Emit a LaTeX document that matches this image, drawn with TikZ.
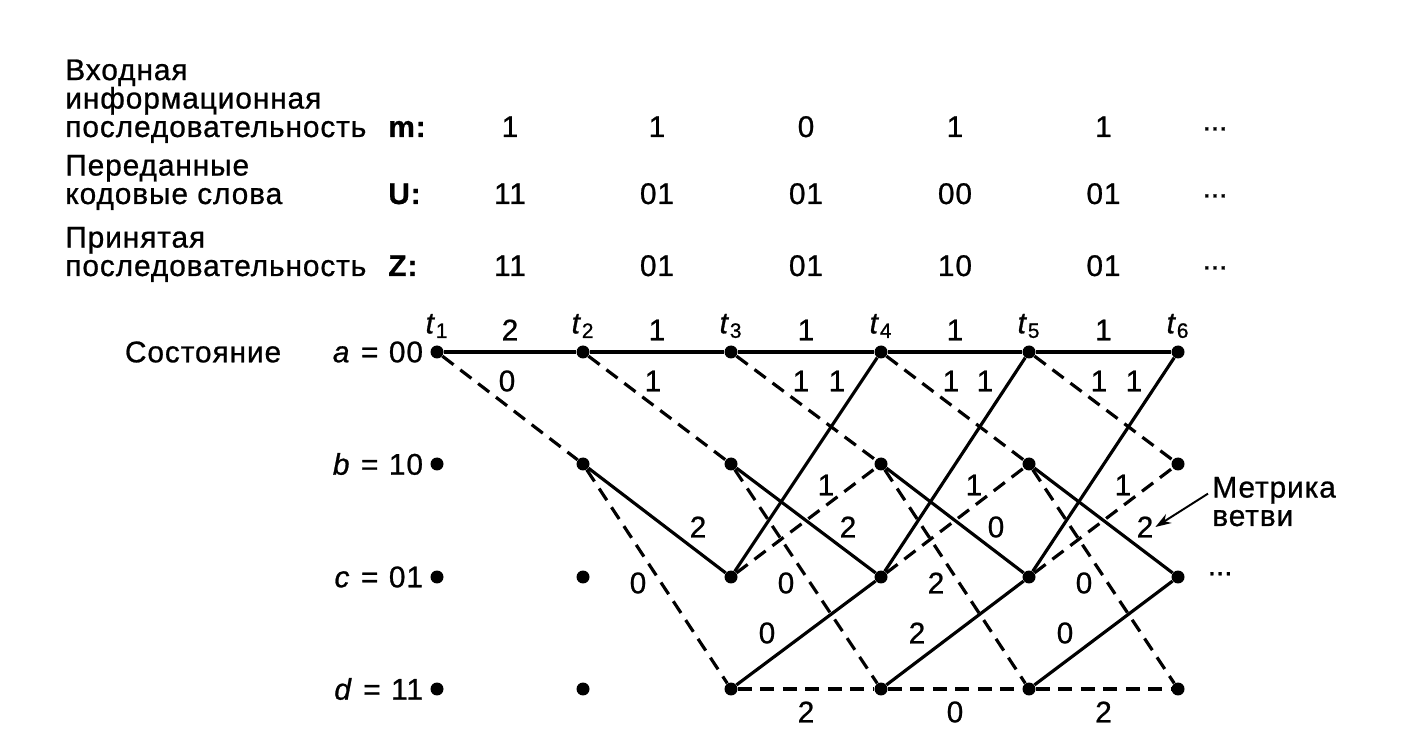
\documentclass[tikz,border=0pt]{standalone}
\usepackage{fontspec}
\setmainfont{Liberation Sans}[LetterSpace=3,FakeBold=0.8]
\usetikzlibrary{arrows.meta,positioning,calc}
\setlength{\lineskiplimit}{-10pt}
\tikzset{
  st/.style={circle,fill=black,inner sep=0pt,minimum size=0.26cm},
  br/.style={line width=1.8pt},
  brd/.style={line width=1.8pt,dash pattern=on 0.28cm off 0.17cm},
  num/.style={font=\fontsize{17}{18}\selectfont,inner sep=1pt},
  lbl/.style={font=\fontsize{17}{16.2}\selectfont,align=left,inner sep=0pt,anchor=base west},
  key/.style={font=\fontsize{17}{18}\selectfont\bfseries,inner sep=0pt,anchor=base west},
  arr/.style={-{Stealth[length=9pt,width=6pt]},line width=1.1pt},
}

\begin{document}
\begin{tikzpicture}[x=0.02cm,y=-0.02cm]
  \useasboundingbox (0,0) rectangle (1421,736);
  \foreach \xx [count=\i] in {437,583,731,881,1029,1178} {
    \foreach \s/\yy in {a/352,b/464,c/577,d/689}
      \node[st] (\s\i) at (\xx,\yy) {};
    \node[num] (t\i) at (\xx,326) {\textit{t}\textsubscript{\i}};
  }
  \foreach \i [evaluate=\i as \j using int(\i+1)] in {1,...,5}
    \coordinate (mid\i) at ($(a\i)!0.5!(a\j)$);

  \node[lbl] (inp) at (65,137) {Входная\\информационная\\последовательность};
  \node[lbl] (sent) at (65,204) {Переданные\\кодовые слова};
  \node[lbl] (recv) at (65,276) {Принятая\\последовательность};
  \node[key] (mlab) at (388,137) {m:};
  \node[key] (ulab) at (388,204) {U:};
  \node[key] (zlab) at (388,276) {Z:};
  \foreach \m/\u/\z [count=\i] in {1/11/11,1/01/01,0/01/01,1/00/10,1/01/01} {
    \node[num,anchor=base] (mv\i) at (mid\i |- mlab.base) {\m};
    \node[num,anchor=base] (uv\i) at (mid\i |- ulab.base) {\u};
    \node[num,anchor=base] (zv\i) at (mid\i |- zlab.base) {\z};
  }
  \foreach \r in {mlab,ulab,zlab}
    \node[num,anchor=base] (\r dots) at (1215,0 |- \r.base) {·\kern-1pt·\kern-1pt·};

  \node[num,left=0.1cm of a1] (sa) {\textit{a}\hspace{6pt}=\hspace{6pt}00};
  \node[num,left=0.1cm of b1] (sb) {\textit{b}\hspace{6pt}=\hspace{6pt}10};
  \node[num,left=0.1cm of c1] (sc) {\textit{c}\hspace{6pt}=\hspace{6pt}01};
  \node[num,left=0.1cm of d1] (sd) {\textit{d}\hspace{6pt}=\hspace{6pt}11};
  \node[num,left=0.95cm of sa] (state) {Состояние};

  \foreach \v/\w [count=\i, evaluate=\i as \j using int(\i+1)] in {2/0,1/1,1/1,1/1,1/1} {
    \draw[br] (a\i) -- (a\j);
    \draw[brd] (a\i) -- (b\j);
    \node[num] (laa\i) at ($(a\i)!0.5!(a\j)+(0,-22)$) {\v};
    \node[num] (lab\i) at ($(a\i)+(70,29)$) {\w};
  }
  \foreach \v/\w [count=\k, evaluate=\k as \i using int(\k+1), evaluate=\k as \j using int(\k+2)] in {2/0,2/0,0/2,2/0} {
    \draw[br] (b\i) -- (c\j);
    \draw[brd] (b\i) -- (d\j);
    \node[num] (lbc\i) at ($(c\j)+(-33,-50)$) {\v};
    \node[num] (lbd\i) at ($(c\i)+(55,6)$) {\w};
  }
  \foreach \p/\q/\r/\s [count=\k, evaluate=\k as \i using int(\k+2), evaluate=\k as \j using int(\k+3)] in {1/1/0/2,1/1/2/0,1/1/0/2} {
    \draw[br] (c\i) -- (a\j);
    \draw[brd] (c\i) -- (b\j);
    \draw[br] (d\i) -- (c\j);
    \draw[brd] (d\i) -- (d\j);
    \node[num] (lca\i) at ($(a\j)+(-44,29)$) {\p};
    \node[num] (lcb\i) at ($(b\j)+(-55,21)$) {\q};
    \node[num] (ldc\i) at ($(c\i)+(36,56)$) {\r};
    \node[num] (ldd\i) at ($(d\i)!0.5!(d\j)+(0,23)$) {\s};
  }
  \node[num,right=0.4cm of c6] (cdots) {·\kern-1pt·\kern-1pt·};

  \node[lbl] (metr) at (1212,526) {Метрика\\ветви};
  \draw[arr] ($(metr.west)+(-4,-8)$) -- (lbc5.east);
\end{tikzpicture}
\end{document}
